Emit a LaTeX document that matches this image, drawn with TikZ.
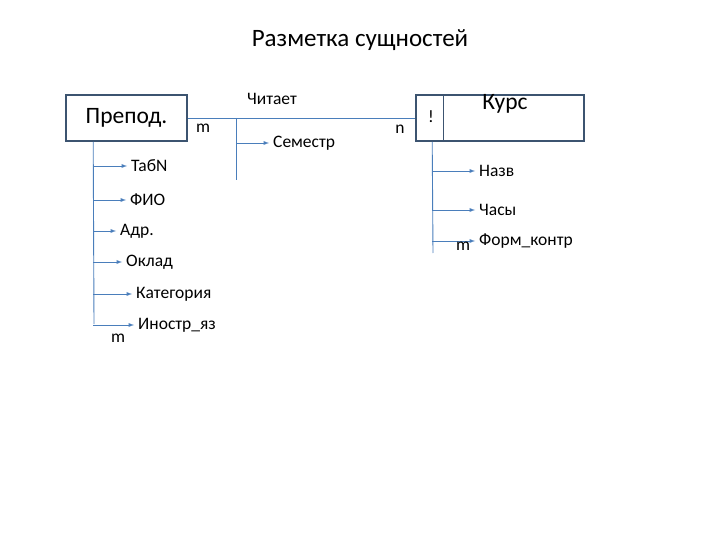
\documentclass[tikz,border=0pt]{standalone}
\usepackage{fontspec}
\setmainfont{Carlito}
\usetikzlibrary{positioning, calc, arrows}
\definecolor{linecol}{RGB}{74,126,187}
\definecolor{boxcol}{RGB}{60,84,112}

\begin{document}
\begin{tikzpicture}[x=1pt,y=-1pt,
		entity/.style = {draw = boxcol, line width = 1.6pt, minimum width = #1, minimum height = 46pt, inner sep = 0pt},
		attr/.style = {anchor = west, inner xsep = 3pt, inner ysep = 0pt, font = \fontsize{17.5}{20}\selectfont},
		cardmark/.style = {font = \fontsize{17.5}{20}\selectfont, inner sep = 0pt},
		link/.style = {draw = linecol, line width = 0.9pt},
		branch/.style = {link, -latex, shorten >= 1pt}]
	\useasboundingbox (0,0) rectangle (720,540);

	\node (title) at (360,40) {\fontsize{25}{30}\selectfont Разметка сущностей};

	% entities
	\node[entity = 121pt] (prepod) at (126.5,118) {\fontsize{23.5}{28}\selectfont Препод.};
	\node[entity = 168pt] (kurs) at (500,118) {};
	\node (kursname) at (505,104) {\fontsize{23.5}{28}\selectfont Курс};
	\draw[draw = boxcol, line width = 1.2pt] ($(kurs.north west)+(28,0)$) -- ($(kurs.south west)+(28,0)$);
	\node[cardmark] (one) at (431,117) {!};

	% relation
	\draw[link] (prepod.east) -- (kurs.west);
	\node (reads) at (272,99) {\fontsize{17.5}{20}\selectfont Читает};
	\node[cardmark] (mleft) at (203,128) {m};
	\node[cardmark] (nright) at (400,129) {n};
	\coordinate (rtop) at (236,118);
	\coordinate (rbot) at (236,180);
	\draw[link] (rtop) -- (rbot);
	\node[attr] (sem) at (270,143) {Семестр};
	\draw[branch] (rtop |- sem) -- (sem.west);

	% attributes of Препод.
	\coordinate (ltop) at ($(prepod.south west)+(28,0)$);
	\coordinate (lbot) at (94,324);
	\draw[link] (ltop) -- (lbot);
	\foreach \name/\txt/\y/\xe in {tab/ТабN/166/128, fio/ФИО/200/127, adr/Адр./231/117, oklad/Оклад/262/123, kat/Категория/294/133, lang/Иностр\_яз/325/135} {
		\node[attr] (\name) at (\xe,\y) {\txt};
		\draw[branch] (ltop |- \name) -- (\name.west);
	}
	\node[cardmark] (mlang) at (118,338) {m};

	% attributes of Курс
	\coordinate (ktop) at ($(kurs.south west)+(17,0)$);
	\coordinate (kbot) at (433,253);
	\draw[link] (ktop) -- (kbot);
	\foreach \name/\txt/\y in {nazv/Назв/171, hours/Часы/210, form/Форм\_контр/241} {
		\node[attr] (\name) at (476,\y) {\txt};
		\draw[branch] (ktop |- \name) -- (\name.west);
	}
	\node[cardmark] (mform) at (463,246) {m};
\end{tikzpicture}
\end{document}
